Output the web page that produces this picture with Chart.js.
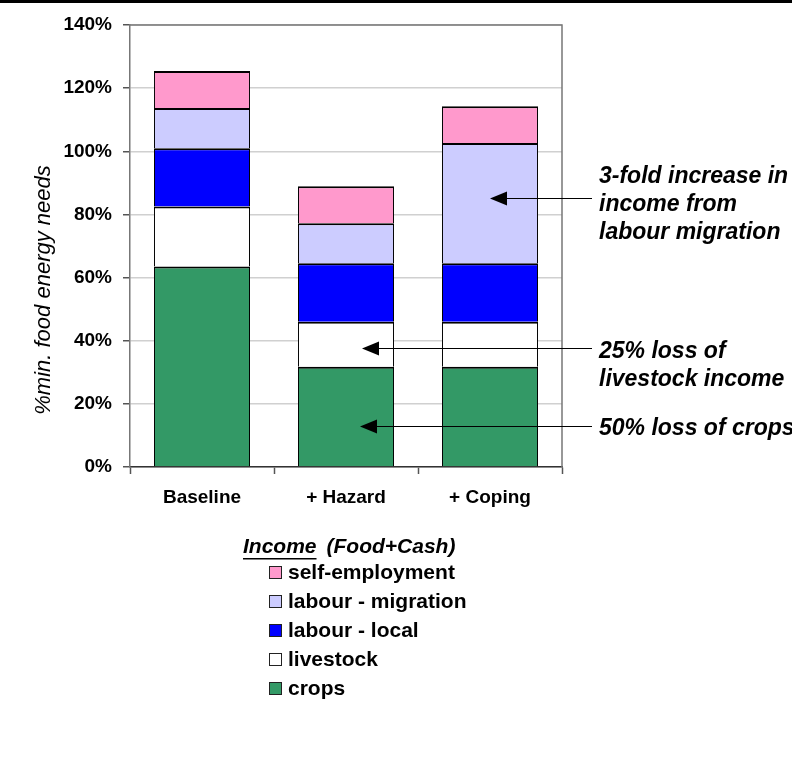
<!DOCTYPE html>
<html>
<head>
<meta charset="utf-8">
<script src="https://cdn.jsdelivr.net/npm/chart.js@4/dist/chart.umd.min.js"></script>
<style>
  html, body { margin: 0; padding: 0; background: #fff; }
  #wrap { width: 792px; height: 783px; }
</style>
</head>
<body>
<div id="wrap"><canvas id="incomeChart" width="792" height="783"></canvas></div>
<script>
const categories = ['Baseline', '+ Hazard', '+ Coping'];
const crops = [63.5, 31.75, 31.75];
const livestock = [19, 14.25, 14.25];
const labourLocal = [18.5, 18.5, 18.5];
const labourMigration = [12.7, 12.7, 38.1];
const selfEmployment = [11.7, 11.7, 11.7];
const yTicks = [0, 20, 40, 60, 80, 100, 120, 140];

// annotation arrows: value on y axis, bar index the arrow points into
const notes = [
    { lines: ['3-fold increase in', 'income from', 'labour migration'], value: 85.2, index: 2, tipDx: 0, textDy: -22 },
    { lines: ['25% loss of', 'livestock income'], value: 37.7, index: 1, tipDx: 16, textDy: 3 },
    { lines: ['50% loss of crops'], value: 13, index: 1, tipDx: 14, textDy: 2 }
];

const FONT = "'Liberation Sans', Arial, sans-serif";
const ctx = document.getElementById('incomeChart').getContext('2d');

const extras = {
    id: 'extras',
    afterDraw(chart) {
        const c = chart.ctx;
        const area = chart.chartArea;
        const x = chart.scales.x;
        const y = chart.scales.y;
        c.save();

        // black rule along top of the picture
        c.fillStyle = '#000';
        c.fillRect(0, 0, chart.width, 3);

        // plot frame (top and right)
        c.strokeStyle = '#777';
        c.lineWidth = 1.5;
        c.beginPath();
        c.moveTo(area.left, area.top);
        c.lineTo(area.right, area.top);
        c.lineTo(area.right, area.bottom);
        c.stroke();

        // y axis title
        c.save();
        c.translate(area.left - 86, (area.top + area.bottom) / 2 + 44);
        c.rotate(-Math.PI / 2);
        c.font = 'italic 22px ' + FONT;
        c.fillStyle = '#000';
        c.textAlign = 'center';
        c.textBaseline = 'middle';
        c.fillText('%min. food energy needs', 0, 0);
        c.restore();

        // arrows + notes
        const lineEnd = area.right + 30;
        notes.forEach(n => {
            const py = Math.round(y.getPixelForValue(n.value)) + 0.5;
            const tip = x.getPixelForValue(n.index) + n.tipDx;
            c.strokeStyle = '#000';
            c.lineWidth = 1;
            c.beginPath();
            c.moveTo(tip + 14, py);
            c.lineTo(lineEnd, py);
            c.stroke();
            c.fillStyle = '#000';
            c.beginPath();
            c.moveTo(tip, py);
            c.lineTo(tip + 17, py - 7);
            c.lineTo(tip + 17, py + 7);
            c.closePath();
            c.fill();
            c.font = 'italic bold 23px ' + FONT;
            c.textAlign = 'left';
            c.textBaseline = 'middle';
            n.lines.forEach((t, i) => {
                c.fillText(t, lineEnd + 7, py + n.textDy + i * 28);
            });
        });

        // legend
        const lx = 243, ly = 547;
        c.font = 'italic bold 21px ' + FONT;
        c.textAlign = 'left';
        c.textBaseline = 'middle';
        c.fillStyle = '#000';
        c.fillText('Income', lx, ly);
        const w = c.measureText('Income').width;
        c.fillRect(lx, ly + 11, w, 1.5);
        c.fillText('(Food+Cash)', lx + w + 10, ly);

        const sets = chart.data.datasets.slice().reverse();
        sets.forEach((ds, i) => {
            const ry = 573 + i * 29;
            c.fillStyle = ds.backgroundColor;
            c.fillRect(269.5, ry - 6.5, 12, 12);
            c.strokeStyle = '#222';
            c.lineWidth = 1;
            c.strokeRect(269.5, ry - 6.5, 12, 12);
            c.fillStyle = '#000';
            c.font = 'bold 21px ' + FONT;
            c.fillText(ds.label, 288, ry);
        });
        c.restore();
    }
};

const barStyle = {
    borderColor: '#000',
    borderWidth: { top: 2, left: 1, right: 1, bottom: 0 },
    borderSkipped: false,
    barPercentage: 0.667,
    categoryPercentage: 1
};

const chart = new Chart(ctx, {
    type: 'bar',
    data: {
        labels: categories,
        datasets: [
            { label: 'crops', data: crops, backgroundColor: '#339966', ...barStyle },
            { label: 'livestock', data: livestock, backgroundColor: '#ffffff', ...barStyle },
            { label: 'labour - local', data: labourLocal, backgroundColor: '#0000ff', ...barStyle },
            { label: 'labour - migration', data: labourMigration, backgroundColor: '#ccccff', ...barStyle },
            { label: 'self-employment', data: selfEmployment, backgroundColor: '#ff99cc', ...barStyle }
        ]
    },
    options: {
        responsive: false,
        animation: false,
        layout: { padding: { top: 25, right: 230, bottom: 266, left: 0 } },
        plugins: {
            legend: { display: false },
            tooltip: { enabled: false }
        },
        scales: {
            x: {
                stacked: true,
                afterFit: s => { s.height = 50; },
                grid: { drawOnChartArea: false, offset: true, tickLength: 7, tickColor: '#555', tickWidth: 1.5 },
                border: { color: '#333', width: 1.5 },
                ticks: { color: '#000', padding: 12, font: { family: FONT, size: 19, weight: 'bold' } }
            },
            y: {
                stacked: true,
                min: 0,
                max: 140,
                afterFit: s => { s.width = 130; },
                afterBuildTicks: s => { s.ticks = yTicks.map(v => ({ value: v })); },
                grid: { color: '#d0d0d0', lineWidth: 1.5, tickLength: 7, tickColor: '#555', tickWidth: 1.5 },
                border: { color: '#777', width: 1.5 },
                ticks: {
                    color: '#000',
                    padding: 11,
                    font: { family: FONT, size: 19, weight: 'bold' },
                    callback: v => v + '%'
                }
            }
        }
    },
    plugins: [extras]
});
</script>
</body>
</html>
